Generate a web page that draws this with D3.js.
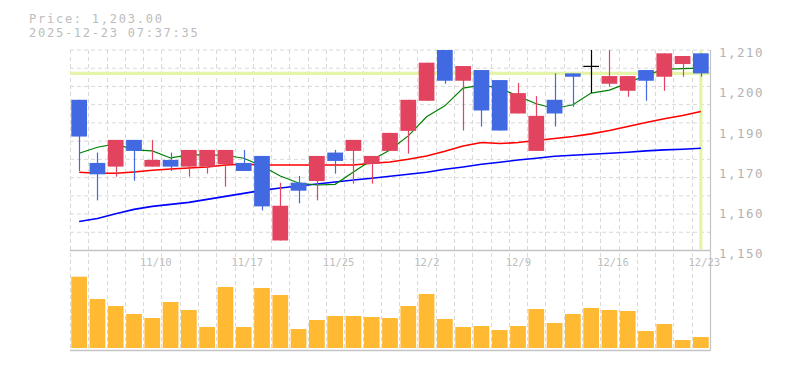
<!DOCTYPE html>
<html>
<head>
<meta charset="utf-8">
<script src="https://cdn.jsdelivr.net/npm/d3@7"></script>
<style>
  html, body { margin: 0; padding: 0; background: #ffffff; }
  svg { display: block; }
</style>
</head>
<body>
<svg id="chart" width="785" height="370"></svg>
<script>
// ---------------- data ----------------
const dates = ["11/4","11/5","11/6","11/7","11/10","11/11","11/12","11/13","11/14","11/17",
  "11/18","11/19","11/20","11/21","11/25","11/26","11/27","11/28","12/1","12/2",
  "12/3","12/4","12/5","12/8","12/9","12/10","12/11","12/12","12/15","12/16",
  "12/17","12/18","12/19","12/22","12/23"];
const opens = [1195.1,1176.2,1175.1,1183.1,1175.1,1177.1,1175.1,1175.1,1175.8,1176.2,
  1178.3,1153.0,1170.3,1170.8,1179.3,1179.8,1175.9,1179.8,1185.8,1194.8,
  1210.0,1200.8,1204.0,1201.0,1191.0,1179.8,1195.1,1203.0,1205.1,1199.9,
  1197.8,1204.0,1202.0,1205.8,1209.0];
const highs = [1195.1,1179.3,1183.1,1183.1,1183.1,1179.3,1180.1,1180.1,1180.1,1180.1,
  1178.3,1170.3,1172.3,1178.3,1180.1,1183.1,1178.3,1185.2,1195.1,1206.2,
  1210.0,1205.2,1204.0,1201.0,1200.1,1196.2,1203.0,1203.0,1210.0,1210.0,
  1202.2,1204.0,1209.0,1208.2,1209.0];
const lows = [1173.8,1165.0,1172.1,1170.9,1175.1,1173.8,1172.1,1173.0,1169.1,1173.8,
  1162.0,1153.0,1164.1,1165.0,1173.0,1170.0,1170.0,1179.8,1179.0,1194.8,
  1199.9,1185.9,1187.1,1185.9,1191.0,1179.8,1187.1,1193.0,1197.1,1199.0,
  1196.0,1194.8,1197.8,1202.0,1202.0];
const closes = [1184.1,1172.8,1183.1,1179.8,1177.1,1175.1,1180.1,1180.1,1180.1,1173.8,
  1163.2,1163.4,1167.9,1178.3,1176.8,1183.1,1178.3,1185.2,1195.1,1206.2,
  1200.8,1205.2,1191.9,1185.9,1197.1,1190.3,1191.0,1202.0,1205.1,1202.2,
  1202.2,1200.8,1209.0,1208.2,1203.0];
const volumes = [71300,49000,42000,34000,30000,46000,38000,21000,61000,21000,
  60000,53000,19000,28000,32000,32000,31000,30000,42000,54000,
  29000,21000,22000,18000,22000,39000,25000,34000,40000,38000,
  37000,17000,24000,8000,11000];
const ma5 = [1179.1,1180.9,1181.9,1180.1,1179.8,1177.7,1178.6,1178.6,1178.5,1177.6,
  1175.3,1172.3,1170.2,1169.6,1169.8,1173.5,1177.1,1180.1,1184.3,1190.0,
  1193.3,1198.6,1199.5,1198.6,1196.2,1193.9,1192.5,1193.6,1197.1,1198.0,
  1200.1,1202.5,1204.2,1204.4,1204.6];
const ma25 = [1173.4,1173.1,1173.1,1173.5,1174.0,1174.4,1174.7,1175.0,1175.6,1175.8,
  1175.6,1175.6,1175.6,1175.6,1175.6,1175.6,1176.1,1176.5,1177.3,1178.3,
  1179.7,1181.3,1182.3,1182.0,1182.3,1182.9,1183.5,1184.1,1184.9,1185.9,
  1187.1,1188.3,1189.4,1190.4,1191.6];
const ma75 = [1158.7,1159.6,1161.0,1162.3,1163.2,1163.8,1164.4,1165.3,1166.2,1167.1,
  1168.0,1168.7,1169.3,1169.9,1170.5,1171.1,1171.6,1172.2,1172.8,1173.4,
  1174.3,1175.0,1175.8,1176.4,1177.1,1177.6,1178.2,1178.5,1178.8,1179.1,
  1179.4,1179.8,1180.1,1180.3,1180.6];
const xTickDates = ["11/10","11/17","11/25","12/2","12/9","12/16","12/23"];
const yTickLabels = ["1,210","1,200","1,190","1,170","1,160","1,150"];
const priceDomain = [1150, 1210];
const lastPrice = 1203;
const titleLines = ["Price: 1,203.00", "2025-12-23 07:37:35"];

// ---------------- layout ----------------
const svg = d3.select("#chart");
const left = 70, right = 710, pTop = 50, pBottom = 250.5, vBottom = 348, vAxis = 350.5;
const n = dates.length;
const x = d3.scaleBand().domain(d3.range(n)).range([left, right]).padding(0);
const bw = x.bandwidth();
const cx = i => x(i) + bw / 2;
const bodyW = bw * 0.86;
const y = d3.scaleLinear().domain(priceDomain).range([pBottom, pTop]);
const v = d3.scaleLinear().domain([0, 80000]).range([vBottom, vBottom - 80]);

const UP = "#e24460", DOWN = "#4169e1", VOL = "#ffb933";
const GRID = "#d9d9d9", AXIS = "#c4c4c4";
const font = "'DejaVu Sans Mono', 'Liberation Mono', monospace";

// ---------------- grid ----------------
const gGrid = svg.append("g");
const nh = 11;
d3.range(nh).forEach(k => {
  const yy = pTop + k * (pBottom - pTop) / nh;
  gGrid.append("line").attr("x1", left).attr("x2", right)
    .attr("y1", yy).attr("y2", yy)
    .attr("stroke", GRID).attr("stroke-width", 1).attr("stroke-dasharray", "4,3");
});
d3.range(n).forEach(i => {
  const xx = Math.round(x(i)) + 0.5;
  gGrid.append("line").attr("x1", xx).attr("x2", xx)
    .attr("y1", pTop).attr("y2", vAxis)
    .attr("stroke", GRID).attr("stroke-width", 1).attr("stroke-dasharray", "4,3");
});
// axes
gGrid.append("line").attr("x1", left).attr("x2", right + 0.5).attr("y1", pBottom).attr("y2", pBottom)
  .attr("stroke", AXIS).attr("stroke-width", 1.5);
gGrid.append("line").attr("x1", left).attr("x2", right + 0.5).attr("y1", vAxis).attr("y2", vAxis)
  .attr("stroke", AXIS).attr("stroke-width", 1.5);
gGrid.append("line").attr("x1", right + 0.5).attr("x2", right + 0.5).attr("y1", pTop).attr("y2", vAxis)
  .attr("stroke", AXIS).attr("stroke-width", 1.2);

// ---------------- current price highlight ----------------
const HL = "#e4f5a9";
svg.append("line").attr("x1", left).attr("x2", right).attr("y1", y(lastPrice)).attr("y2", y(lastPrice))
  .attr("stroke", HL).attr("stroke-width", 3.3);
svg.append("line").attr("x1", cx(n - 1)).attr("x2", cx(n - 1)).attr("y1", pTop).attr("y2", pBottom - 1)
  .attr("stroke", HL).attr("stroke-width", 3.3);

// ---------------- moving averages ----------------
const lineGen = arr => d3.line().x((d, i) => cx(i)).y(d => y(d))(arr);
svg.append("path").attr("d", lineGen(ma75)).attr("fill", "none").attr("stroke", "#0000ff").attr("stroke-width", 1.6);
svg.append("path").attr("d", lineGen(ma25)).attr("fill", "none").attr("stroke", "#ff0000").attr("stroke-width", 1.6);
svg.append("path").attr("d", lineGen(ma5)).attr("fill", "none").attr("stroke", "#008000").attr("stroke-width", 1.2);

// ---------------- candles ----------------
const gC = svg.append("g");
d3.range(n).forEach(i => {
  const o = opens[i], c = closes[i], h = highs[i], l = lows[i];
  const col = c > o ? UP : (c < o ? DOWN : "#000000");
  const xc = Math.round(cx(i)) + 0.5;
  gC.append("line").attr("x1", xc).attr("x2", xc).attr("y1", y(h)).attr("y2", y(l))
    .attr("stroke", col).attr("stroke-width", 1.2);
  if (o === c) {
    gC.append("line").attr("x1", cx(i) - bodyW / 2).attr("x2", cx(i) + bodyW / 2)
      .attr("y1", y(o)).attr("y2", y(o)).attr("stroke", col).attr("stroke-width", 1.2);
  } else {
    gC.append("rect").attr("x", cx(i) - bodyW / 2).attr("width", bodyW)
      .attr("y", y(Math.max(o, c))).attr("height", Math.abs(y(o) - y(c)))
      .attr("fill", col);
  }
});

// ---------------- volume ----------------
svg.append("g").selectAll("rect").data(volumes).join("rect")
  .attr("x", (d, i) => cx(i) - bodyW / 2).attr("width", bodyW)
  .attr("y", d => v(d)).attr("height", d => vBottom - v(d))
  .attr("fill", VOL);

// ---------------- labels ----------------
const ys = d3.scalePoint().domain(yTickLabels).range([y(priceDomain[1]), y(priceDomain[0])]);
svg.append("g").selectAll("text").data(yTickLabels).join("text")
  .attr("x", 719).attr("y", d => ys(d) + 7.3)
  .attr("font-family", font).attr("font-size", 12.5).attr("letter-spacing", 1.5)
  .attr("fill", "#b3b3b3").text(d => d);

svg.append("g").selectAll("text").data(xTickDates).join("text")
  .attr("x", d => cx(dates.indexOf(d)) - 12.3).attr("y", 265.7)
  .attr("font-family", font).attr("font-size", 10.5)
  .attr("fill", "#bdbdbd").text(d => d);

svg.append("g").selectAll("text").data(titleLines).join("text")
  .attr("x", 29).attr("y", (d, i) => 22.8 + i * 14.3)
  .attr("font-family", font).attr("font-size", 12).attr("letter-spacing", 1.75)
  .attr("fill", "#bcbcbc").text(d => d);
</script>
</body>
</html>
